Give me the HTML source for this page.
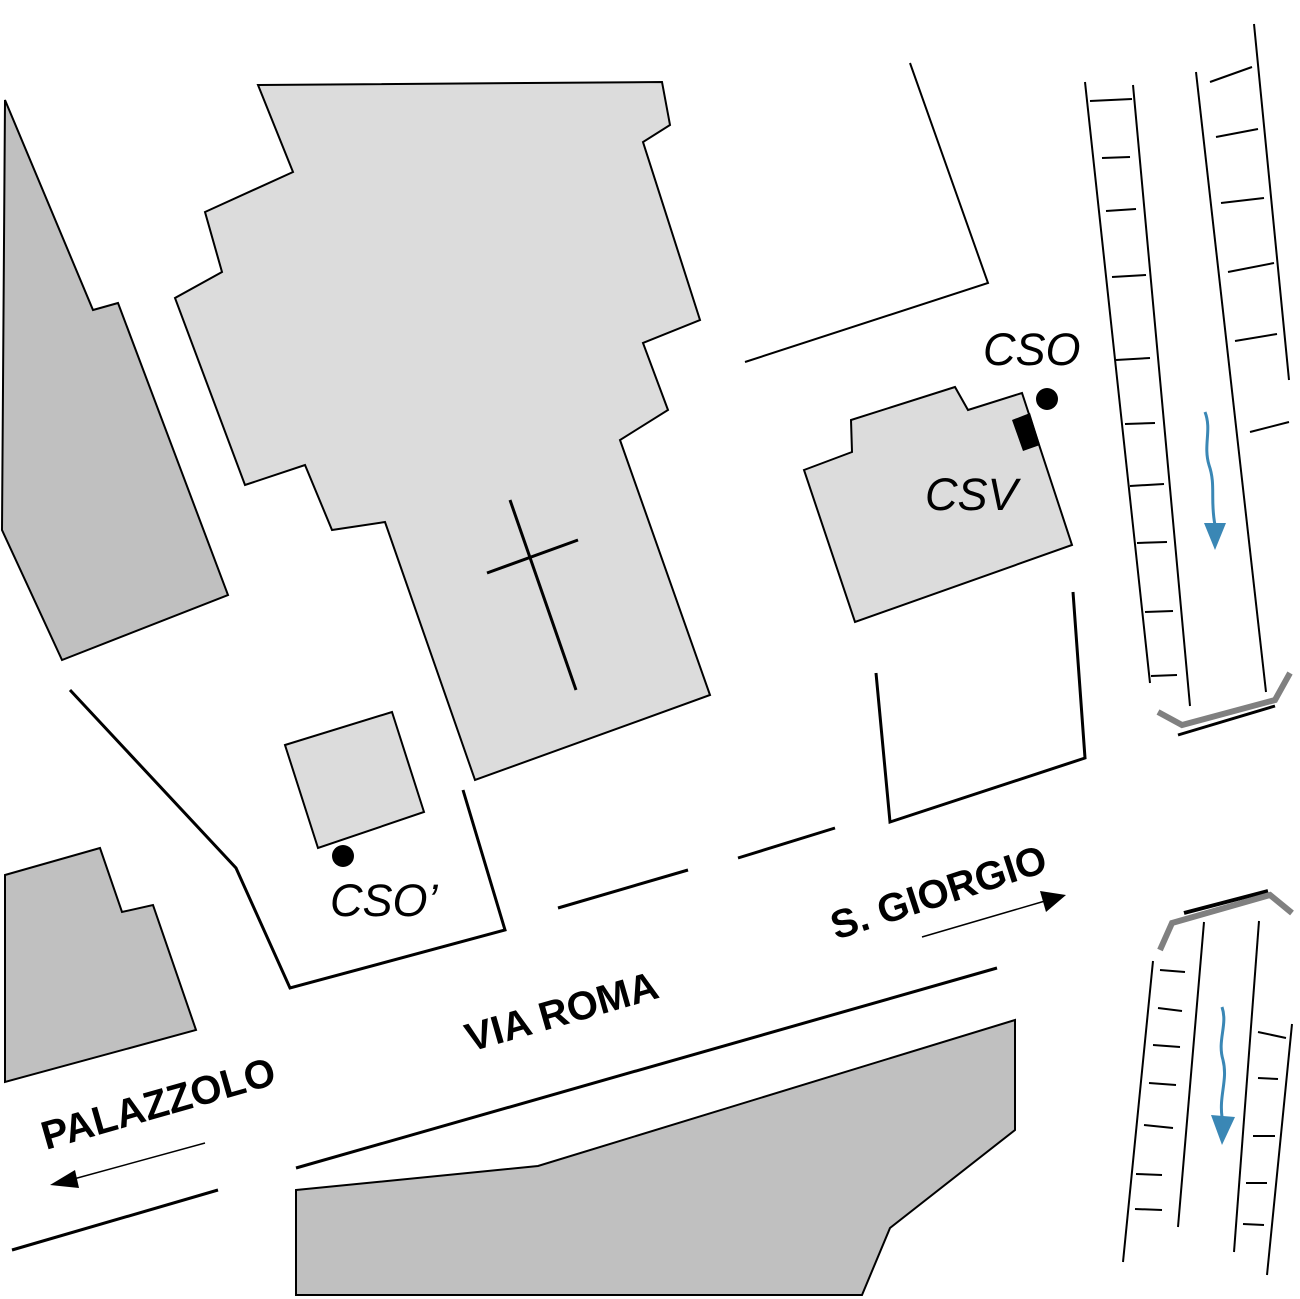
<!DOCTYPE html>
<html><head><meta charset="utf-8"><style>
html,body{margin:0;padding:0;background:#fff;}
svg{display:block;}
text{font-family:"Liberation Sans",sans-serif;}
</style></head><body>
<svg width="1300" height="1299" viewBox="0 0 1300 1299" xmlns="http://www.w3.org/2000/svg">
<g stroke="#000" stroke-width="2" stroke-linejoin="miter">
<polygon points="5,100 93,310 118,303 228,595 62,660 2,530" fill="#c0c0c0"/>
<polygon points="258,85 662,82 670,125 643,142 700,320 643,343 668,410 620,440 710,695 475,780 385,522 332,530 305,465 245,485 175,298 222,272 205,212 293,172" fill="#dcdcdc"/>
<polygon points="285,745 392,712 424,812 318,848" fill="#dcdcdc"/>
<polygon points="804,470 852,452 851,420 955,387 968,410 1022,393 1072,545 855,622" fill="#dcdcdc"/>
<polygon points="296,1190 538,1166 1015,1020 1015,1130 890,1228 862,1295 296,1295" fill="#c0c0c0"/>
<polygon points="5,875 100,848 122,912 153,905 196,1030 5,1082" fill="#c0c0c0"/>
</g>
<polygon points="1012,420 1030,413 1040,445 1023,451" fill="#000"/>
<g stroke="#000" stroke-width="3" fill="none">
<line x1="510" y1="500" x2="576" y2="690"/>
<line x1="487" y1="573" x2="578" y2="540"/>
<polyline points="70,690 236,868 290,988 505,930 463,790"/>
<line x1="558" y1="908" x2="688" y2="870"/>
<line x1="738" y1="858" x2="835" y2="828"/>
<polyline points="876,673 890,822 1085,758 1073,592"/>
<line x1="296" y1="1168" x2="997" y2="968"/>
<line x1="12" y1="1250" x2="218" y2="1190"/>
</g>
<polyline points="910,63 988,283 745,362" stroke="#000" stroke-width="2" fill="none"/>
<circle cx="343" cy="856" r="11" fill="#000"/>
<circle cx="1047" cy="399" r="11" fill="#000"/>
<g font-style="italic" font-size="45" fill="#000">
<text x="330" y="916">CSO’</text>
<text x="983" y="365">CSO</text>
<text x="925" y="510">CSV</text>
</g>
<g font-weight="bold" font-size="40" fill="#000">
<text transform="translate(46,1150) rotate(-16)">PALAZZOLO</text>
<text transform="translate(470,1052) rotate(-16)">VIA ROMA</text>
<text transform="translate(836,940) rotate(-18)">S. GIORGIO</text>
</g>
<g stroke="#000" stroke-width="1.5">
<line x1="205" y1="1143" x2="70" y2="1180"/>
<line x1="922" y1="937" x2="1045" y2="901"/>
</g>
<polygon points="50,1185 75,1170 79,1188" fill="#000"/>
<polygon points="1066,895 1040,891 1046,912" fill="#000"/>
<!-- top canal -->
<g stroke="#000" stroke-width="2">
<line x1="1085" y1="82" x2="1150" y2="683"/>
<line x1="1133" y1="85" x2="1190" y2="706"/>
<line x1="1196" y1="72" x2="1266" y2="692"/>
<line x1="1254" y1="24" x2="1289" y2="380"/>
<line x1="1090" y1="101" x2="1132" y2="99"/>
<line x1="1102" y1="158" x2="1130" y2="157"/>
<line x1="1106" y1="211" x2="1136" y2="209"/>
<line x1="1112" y1="277" x2="1146" y2="275"/>
<line x1="1116" y1="360" x2="1150" y2="358"/>
<line x1="1125" y1="424" x2="1155" y2="423"/>
<line x1="1130" y1="486" x2="1164" y2="484"/>
<line x1="1137" y1="543" x2="1167" y2="542"/>
<line x1="1145" y1="612" x2="1173" y2="611"/>
<line x1="1151" y1="676" x2="1177" y2="675"/>
<line x1="1210" y1="82" x2="1252" y2="67"/>
<line x1="1216" y1="137" x2="1258" y2="129"/>
<line x1="1221" y1="203" x2="1264" y2="198"/>
<line x1="1228" y1="272" x2="1274" y2="263"/>
<line x1="1235" y1="341" x2="1277" y2="334"/>
<line x1="1250" y1="432" x2="1289" y2="422"/>
</g>
<polyline points="1158,712 1182,725 1275,700 1290,673" stroke="#808080" stroke-width="6" fill="none"/>
<line x1="1178" y1="735" x2="1275" y2="706" stroke="#000" stroke-width="3"/>
<path d="M1205,412 C1212,430 1203,445 1209,465 C1216,485 1210,500 1215,525" stroke="#3a87b5" stroke-width="3" fill="none"/>
<polygon points="1204,523 1226,523 1215,550" fill="#3a87b5"/>
<!-- bottom canal -->
<line x1="1184" y1="913" x2="1268" y2="891" stroke="#000" stroke-width="4"/>
<polyline points="1160,950 1172,923 1270,895 1292,913" stroke="#808080" stroke-width="6" fill="none"/>
<g stroke="#000" stroke-width="2">
<line x1="1153" y1="961" x2="1123" y2="1262"/>
<line x1="1204" y1="922" x2="1178" y2="1227"/>
<line x1="1259" y1="921" x2="1234" y2="1252"/>
<line x1="1292" y1="1024" x2="1267" y2="1275"/>
<line x1="1160" y1="970" x2="1185" y2="972"/>
<line x1="1158" y1="1008" x2="1182" y2="1011"/>
<line x1="1153" y1="1045" x2="1180" y2="1047"/>
<line x1="1149" y1="1083" x2="1176" y2="1085"/>
<line x1="1144" y1="1125" x2="1173" y2="1128"/>
<line x1="1136" y1="1174" x2="1162" y2="1175"/>
<line x1="1135" y1="1209" x2="1162" y2="1210"/>
<line x1="1258" y1="1032" x2="1286" y2="1038"/>
<line x1="1258" y1="1078" x2="1278" y2="1079"/>
<line x1="1253" y1="1136" x2="1275" y2="1136"/>
<line x1="1246" y1="1183" x2="1267" y2="1183"/>
<line x1="1243" y1="1224" x2="1264" y2="1225"/>
</g>
<path d="M1222,1007 C1228,1025 1217,1040 1223,1060 C1228,1080 1219,1095 1222,1117" stroke="#3a87b5" stroke-width="3" fill="none"/>
<polygon points="1211,1115 1235,1117 1222,1145" fill="#3a87b5"/>
</svg>
</body></html>
